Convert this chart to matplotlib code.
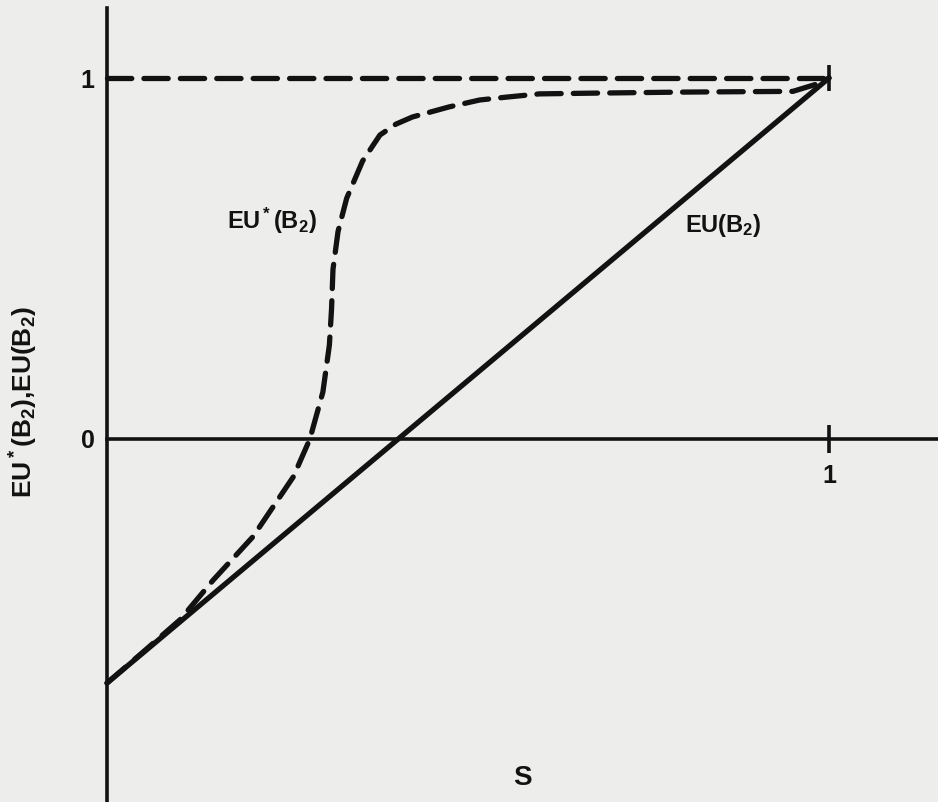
import matplotlib
matplotlib.use("Agg")
import matplotlib.pyplot as plt

plt.rcParams['font.family'] = ['Liberation Sans', 'DejaVu Sans']
plt.rcParams['font.weight'] = 'bold'
plt.rcParams['mathtext.fontset'] = 'custom'
plt.rcParams['mathtext.rm'] = 'Liberation Sans:bold'
plt.rcParams['mathtext.it'] = 'Liberation Sans:bold'
plt.rcParams['mathtext.bf'] = 'Liberation Sans:bold'
plt.rcParams['mathtext.default'] = 'bf'

# EU(B2): straight line in S
s_lin = [0.0, 1.0]
eu_lin = [-0.676, 1.0]

# EU*(B2): dashed S-shaped curve
s_star = [0.0, 0.05, 0.101, 0.147, 0.202, 0.258, 0.281, 0.299, 0.308, 0.311,
          0.313, 0.320, 0.332, 0.354, 0.378, 0.400, 0.423, 0.474, 0.516, 0.553,
          0.599, 0.671, 0.800, 0.950, 0.986, 1.0]
eu_star = [-0.676, -0.590, -0.501, -0.391, -0.271, -0.105, 0.0, 0.13, 0.26, 0.36,
           0.47, 0.575, 0.667, 0.77, 0.842, 0.872, 0.892, 0.920, 0.939, 0.947,
           0.956, 0.958, 0.961, 0.963, 0.985, 1.0]

# upper bound at 1
s_bound = [0.0, 1.0]
eu_bound = [1.0, 1.0]

x_ticks = [1]
y_ticks = [0, 1]

ink = '#121212'
paper = '#ededeb'

W, H = 938, 802
X0, XS = 107, 722
Y0, YS = 439, 361

fig = plt.figure(figsize=(W / 100, H / 100), dpi=100, facecolor=paper)
ax = fig.add_axes([0, 0, 1, 1], facecolor=paper)
ax.set_xlim(-X0 / XS, (W - X0) / XS)
ax.set_ylim(-(H - Y0) / YS, Y0 / YS)

for side in ('top', 'right'):
    ax.spines[side].set_visible(False)
ax.spines['left'].set_position(('data', 0))
ax.spines['bottom'].set_position(('data', 0))
ax.spines['left'].set_bounds(-(H - Y0) / YS, (Y0 - 8) / YS)
ax.spines['bottom'].set_bounds(0, (W - X0) / XS)
for side in ('left', 'bottom'):
    ax.spines[side].set_linewidth(2.6)
    ax.spines[side].set_color(ink)

dash = (0, (4.6, 2.3))
lw = 3.8

ax.plot(s_lin, eu_lin, color=ink, lw=lw, solid_capstyle='round')
ax.plot(s_star, eu_star, color=ink, lw=lw, linestyle=dash,
        dash_capstyle='round')
ax.plot(s_bound, eu_bound, color=ink, lw=lw, linestyle=dash,
        dash_capstyle='round')
ax.plot([s_bound[-1]], [eu_bound[-1]], marker='|', ms=19, mew=2.6, color=ink)

ax.set_xticks(x_ticks)
ax.set_xticklabels([str(v) for v in x_ticks])
ax.set_yticks(y_ticks)
ax.set_yticklabels([str(v) for v in y_ticks])
ax.tick_params(axis='x', direction='inout', length=20, width=2.6, color=ink,
               pad=8, labelsize=18, labelcolor=ink)
ax.tick_params(axis='y', length=0, pad=9, labelsize=18, labelcolor=ink)
for lab in ax.get_xticklabels() + ax.get_yticklabels():
    lab.set_fontweight('bold')

ax.text(0.166, 0.582, 'EU$^*$(B$_2$)', fontsize=17, fontweight='bold',
        color=ink, ha='left', va='baseline')
ax.text(0.80, 0.573, 'EU(B$_2$)', fontsize=17, fontweight='bold',
        color=ink, ha='left', va='baseline')
ax.text(0.576, -0.958, 'S', fontsize=20, fontweight='bold', color=ink,
        ha='center', va='baseline')
fig.text(24 / W, 1 - 402 / H, 'EU$^*$(B$_2$),EU(B$_2$)', fontsize=19,
         fontweight='bold', color=ink, rotation=90, ha='center', va='center')

fig.savefig('out.png', dpi=100, facecolor=paper)
